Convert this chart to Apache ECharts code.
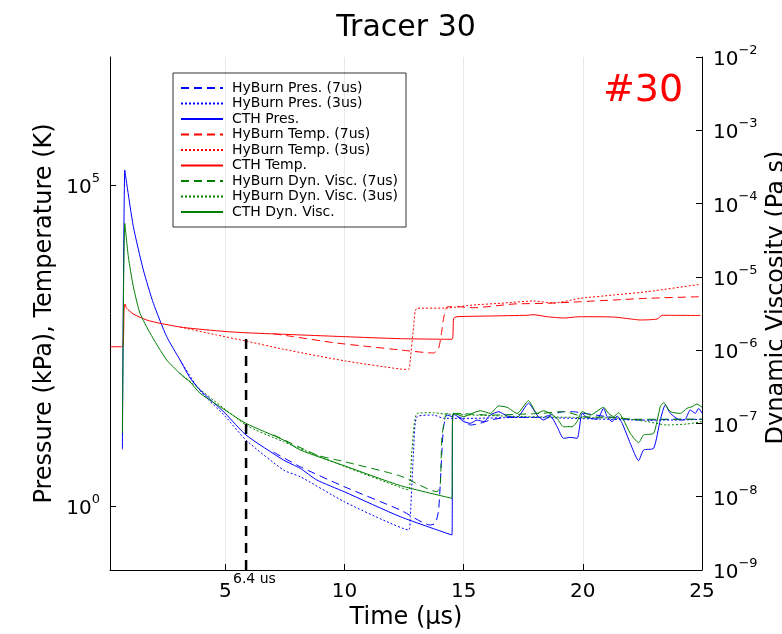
<!DOCTYPE html>
<html>
<head>
<meta charset="utf-8">
<script src="https://cdn.jsdelivr.net/npm/echarts@6/dist/echarts.min.js"></script>
<style>
html,body{margin:0;padding:0;background:#fff;}
#c{width:782px;height:634px;}
</style>
</head>
<body>
<div id="c"></div>
<script>
// ---------------- data (time in µs) ----------------
const timeTicks = [5, 10, 15, 20, 25];
const leftTicks = [1, 1e5];
const rightTicks = [1e-9, 1e-8, 1e-7, 1e-6, 1e-5, 1e-4, 1e-3, 1e-2];
const gridTimes = [5, 10, 15, 20];

const seriesNames = [
  'HyBurn Pres. (7us)', 'HyBurn Pres. (3us)', 'CTH Pres.',
  'HyBurn Temp. (7us)', 'HyBurn Temp. (3us)', 'CTH Temp.',
  'HyBurn Dyn. Visc. (7us)', 'HyBurn Dyn. Visc. (3us)', 'CTH Dyn. Visc.'
];

// Pressure (kPa)
const hyburnPres7 = [[7.02,6.9],[8.14,4.08],[9.99,1.99],[12.34,0.863],[13.60,0.503],[13.81,0.535],[13.95,0.863],[14.09,7.43],[14.16,17.2],[14.30,26.1],[14.58,24.3],[14.86,24.0],[15.28,18.2],[15.70,19.4],[16.12,21.8],[16.82,24.0],[18.22,24.0],[19.19,29.4],[19.61,29.4],[20.03,27.8],[21.02,24.6],[21.86,22.4],[22.70,21.8],[23.81,22.4],[25.0,22.4]];
const hyburnPres3 = [[3.10,188],[3.94,62],[4.99,25],[5.87,10.6],[7.44,3.62],[8.14,2.85],[9.99,1.16],[11.78,0.566],[12.69,0.421],[12.76,0.678],[12.90,7.43],[13.04,24.6],[13.74,26.1],[14.16,23.2],[15.42,23.2],[17.52,24.0],[19.61,23.2],[21.02,22.4],[22.41,21.8],[23.81,21.8],[25.0,22.4]];
const cthPres = [[0.68,7.62],[0.78,1.73e5],[0.86,1.07e5],[1.14,2.26e4],[1.56,4760],[1.98,1442],[2.54,435],[3.10,188],[3.52,98.6],[3.94,64.1],[4.99,27.8],[5.87,12.7],[7.44,5.19],[8.14,3.85],[8.84,2.53],[9.99,1.66],[12.34,0.678],[14.51,0.351],[14.53,19.4],[14.58,26.8],[14.72,25.2],[15.00,20.6],[15.28,19.4],[15.56,21.8],[15.84,20.6],[16.12,26.1],[16.47,29.4],[16.82,25.2],[17.24,24.0],[17.72,39.8],[18.08,26.1],[18.35,21.8],[18.63,25.2],[18.92,17.2],[19.19,11.3],[19.48,11.7],[19.76,11.3],[19.97,27.8],[20.18,24.0],[20.60,22.4],[20.87,33.2],[21.02,24.6],[21.23,20.6],[21.44,25.2],[21.65,19.4],[21.99,9.46],[22.34,5.06],[22.55,7.43],[22.97,7.90],[23.25,21.8],[23.46,37.4],[23.67,27.8],[24.09,21.8],[24.30,22.4],[24.51,31.3],[24.72,27.8],[24.86,33.2],[25.0,27.8]];

// Temperature (K)
const hyburnTemp7 = [[7.01,484],[7.86,435],[9.54,351],[11.08,303],[12.34,270],[13.74,242],[13.95,287],[14.09,553],[14.16,851],[14.30,1262],[14.72,1276],[15.42,1230],[17.10,1406],[18.50,1442],[19.90,1528],[21.29,1624],[22.70,1726],[24.93,1828]];
const hyburnTemp3 = [[3.10,615],[4.64,462],[5.87,372],[7.44,277],[10.03,182],[12.34,136],[12.69,134],[12.76,188],[12.90,616],[13.04,1205],[14.30,1219],[15.42,1358],[16.54,1442],[17.93,1567],[18.77,1458],[19.90,1726],[21.29,1942],[22.70,2188],[24.93,2851]];
const cthTemp = [[0.16,303],[0.68,303],[0.75,1135],[0.79,1406],[0.86,1205],[1.14,982],[1.70,792],[2.26,703],[3.24,605],[4.99,524],[5.87,501],[7.44,474],[10.03,435],[12.34,405],[14.51,396],[14.58,841],[14.72,891],[16.12,914],[17.66,938],[17.92,958],[18.50,891],[19.19,851],[19.90,891],[21.29,881],[22.12,812],[22.41,792],[23.12,820],[23.33,938],[24.94,931]];

// Dynamic viscosity (Pa s)
const hyburnVisc7 = [[7.02,7.0e-8],[8.84,3.71e-8],[9.99,3.01e-8],[12.34,1.92e-8],[13.88,1.17e-8],[14.02,1.52e-8],[14.09,6.59e-8],[14.30,1.37e-7],[14.72,1.37e-7],[16.12,1.30e-7],[18.22,1.37e-7],[19.19,1.45e-7],[20.03,1.24e-7],[21.29,1.21e-7],[22.13,1.14e-7],[23.12,1.14e-7],[25.0,1.14e-7]];
const hyburnVisc3 = [[3.10,4.83e-7],[5.87,9.52e-8],[7.44,5.63e-8],[10.03,2.57e-8],[12.34,1.34e-8],[12.69,1.24e-8],[12.83,4.34e-8],[13.04,1.37e-7],[13.74,1.40e-7],[14.16,1.35e-7],[15.42,1.30e-7],[17.52,1.24e-7],[19.61,1.21e-7],[21.71,1.17e-7],[22.70,1.06e-7],[23.54,9.52e-8],[24.37,9.82e-8],[25.0,1.06e-7]];
const cthVisc = [[0.68,7.33e-8],[0.78,5.38e-5],[0.93,1.88e-5],[1.14,7.34e-6],[1.42,3.18e-6],[1.84,1.71e-6],[2.54,7.34e-7],[3.24,4.34e-7],[3.52,3.67e-7],[3.94,2.58e-7],[4.99,1.52e-7],[5.87,1.00e-7],[7.44,5.94e-8],[8.14,4.34e-8],[10.03,2.62e-8],[12.34,1.42e-8],[14.51,9.51e-9],[14.53,1.30e-7],[14.58,1.37e-7],[15.00,1.24e-7],[15.42,1.40e-7],[15.70,1.49e-7],[16.12,1.37e-7],[16.47,1.73e-7],[16.82,1.66e-7],[17.24,1.37e-7],[17.72,2.04e-7],[18.08,1.37e-7],[18.35,1.49e-7],[18.63,1.37e-7],[18.92,1.17e-7],[19.19,9.02e-8],[19.55,9.02e-8],[19.76,1.06e-7],[19.97,1.45e-7],[20.31,1.30e-7],[20.87,1.66e-7],[21.08,1.37e-7],[21.29,1.24e-7],[21.50,1.40e-7],[21.71,1.11e-7],[21.99,7.33e-8],[22.34,5.46e-8],[22.55,6.95e-8],[22.97,7.33e-8],[23.25,1.69e-7],[23.39,1.92e-7],[23.67,1.45e-7],[24.09,1.37e-7],[24.37,1.61e-7],[24.58,1.69e-7],[24.79,1.84e-7],[25.0,1.66e-7]];

// vertical marker
const markerLine = [[5.87, 0.1], [5.87, 446]];
const markerLabel = '6.4 us';

// ---------------- chart ----------------
const FONT = 'DejaVu Sans';
const BLUE = '#0000ff', RED = '#ff0000', GREEN = '#008000';
const DASH = [8, 5], DOT = [2, 2];

function supLabel(v) {
  const e = Math.round(Math.log10(v));
  const s = e < 0 ? '\u2212' + (-e) : String(e);
  return '{b|10}{s|' + s + '}';
}
const richLab = {
  b: { fontSize: 20, fontFamily: FONT, color: '#000', lineHeight: 26, verticalAlign: 'bottom' },
  s: { fontSize: 13, fontFamily: FONT, color: '#000', verticalAlign: 'top' }
};

function mk(name, data, yIdx, color, dash) {
  return {
    name: name, type: 'line', data: data, yAxisIndex: yIdx,
    symbol: 'none', showSymbol: false,
    smooth: 0.2,
    lineStyle: { color: color, width: 1, type: dash },
    itemStyle: { color: color },
    emphasis: { disabled: true }, z: 3
  };
}

const chart = echarts.init(document.getElementById('c'), null, { renderer: 'canvas' });
chart.setOption({
  animation: false,
  backgroundColor: '#fff',
  grid: { left: 110, right: 80, top: 57, bottom: 64, containLabel: false, outerBoundsMode: 'none' },
  legend: {
    orient: 'vertical', left: 173, top: 73,
    padding: [8, 8, 8, 7], itemGap: 1.5, itemWidth: 42, itemHeight: 13,
    backgroundColor: '#fff', borderColor: '#333', borderWidth: 1,
    itemStyle: { opacity: 0 },
    textStyle: { fontSize: 14, fontFamily: FONT, color: '#000', padding: [0, 0, 0, 4] },
    data: seriesNames
  },
  xAxis: {
    type: 'value', min: 0.16, max: 25,
    axisLine: { show: true, onZero: false, lineStyle: { color: '#000', width: 1 } },
    axisTick: { show: true, inside: true, length: 6, customValues: timeTicks, lineStyle: { color: '#000' } },
    axisLabel: { customValues: timeTicks, fontSize: 20, fontFamily: FONT, color: '#000', margin: 12 },
    splitLine: { show: false },
    name: 'Time (μs)', nameLocation: 'middle', nameGap: 36, nameMoveOverlap: false,
    nameTextStyle: { fontSize: 24, fontFamily: FONT, color: '#000' }
  },
  yAxis: [
    {
      type: 'log', logBase: 10, min: 0.1, max: 1e7, position: 'left',
      axisLine: { show: true, onZero: false, lineStyle: { color: '#000', width: 1 } },
      axisTick: { show: true, inside: true, length: 6, customValues: leftTicks, lineStyle: { color: '#000' } },
      axisLabel: { customValues: leftTicks, formatter: supLabel, rich: richLab, margin: 10 },
      splitLine: { show: false },
      name: 'Pressure (kPa), Temperature (K)', nameLocation: 'middle', nameGap: 53, nameRotate: 90, nameMoveOverlap: false,
      nameTextStyle: { fontSize: 24, fontFamily: FONT, color: '#000' }
    },
    {
      type: 'log', logBase: 10, min: 1e-9, max: 1e-2, position: 'right',
      axisLine: { show: true, onZero: false, lineStyle: { color: '#000', width: 1 } },
      axisTick: { show: true, inside: true, length: 6, customValues: rightTicks, lineStyle: { color: '#000' } },
      axisLabel: { customValues: rightTicks, formatter: supLabel, rich: richLab, margin: 11 },
      splitLine: { show: false },
      name: 'Dynamic Viscosity (Pa s)', nameLocation: 'middle', nameGap: 63, nameRotate: 90, nameMoveOverlap: false,
      nameTextStyle: { fontSize: 24, fontFamily: FONT, color: '#000', padding: [0, 0, 0, 32] }
    }
  ],
  series: [
    {
      type: 'line', data: [], yAxisIndex: 0, z: 1, silent: true,
      markLine: {
        silent: true, symbol: ['none', 'none'], label: { show: false },
        lineStyle: { color: 'rgba(0,0,0,0.09)', width: 1, type: 'solid' },
        emphasis: { disabled: true },
        data: gridTimes.map(function (t) { return { xAxis: t }; })
      }
    },
    mk(seriesNames[0], hyburnPres7, 0, BLUE, DASH),
    mk(seriesNames[1], hyburnPres3, 0, BLUE, DOT),
    mk(seriesNames[2], cthPres, 0, BLUE, 'solid'),
    mk(seriesNames[3], hyburnTemp7, 0, RED, DASH),
    mk(seriesNames[4], hyburnTemp3, 0, RED, DOT),
    mk(seriesNames[5], cthTemp, 0, RED, 'solid'),
    mk(seriesNames[6], hyburnVisc7, 1, GREEN, DASH),
    mk(seriesNames[7], hyburnVisc3, 1, GREEN, DOT),
    mk(seriesNames[8], cthVisc, 1, GREEN, 'solid'),
    {
      type: 'line', data: markerLine, yAxisIndex: 0, symbol: 'none', z: 4, silent: true,
      lineStyle: { color: '#000', width: 2.5, type: [10, 7] }
    }
  ],
  graphic: [
    { type: 'text', x: 406, y: 28, style: { text: 'Tracer 30', fontSize: 30, fontFamily: FONT, fill: '#000', align: 'center', verticalAlign: 'middle', textAlign: 'center', textVerticalAlign: 'middle' } },
    { type: 'text', x: 643, y: 91, style: { text: '#30', fontSize: 38, fontFamily: FONT, fill: '#ff0000', align: 'center', verticalAlign: 'middle', textAlign: 'center', textVerticalAlign: 'middle' } },
    { type: 'text', x: 233, y: 579, style: { text: markerLabel, fontSize: 14, fontFamily: FONT, fill: '#000', align: 'left', verticalAlign: 'middle', textAlign: 'left', textVerticalAlign: 'middle' } }
  ]
});
</script>
</body>
</html>
